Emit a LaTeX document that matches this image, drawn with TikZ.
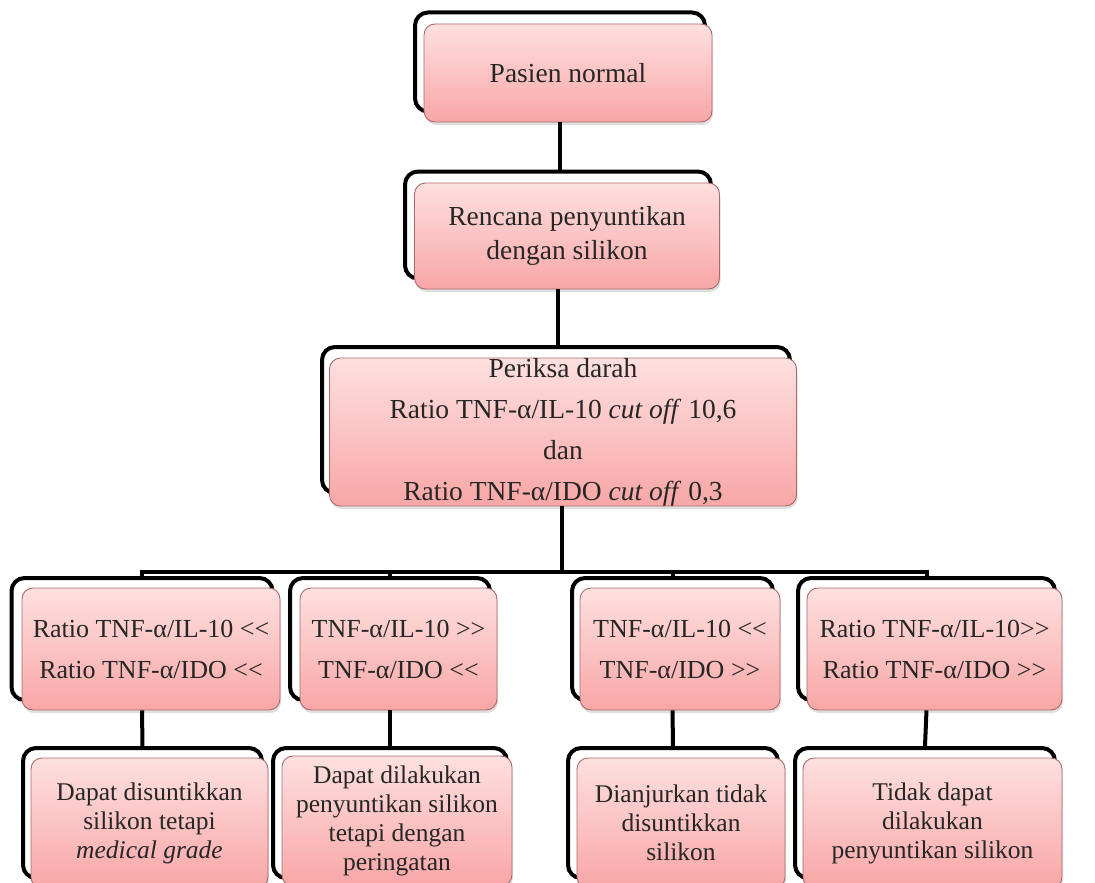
\documentclass[tikz,border=0pt]{standalone}
\usepackage{fontspec}
\setmainfont{Liberation Serif}
\usetikzlibrary{shadows}
\definecolor{pinktop}{RGB}{254,224,224}
\definecolor{pinkbot}{RGB}{249,166,166}
\definecolor{pinkedge}{RGB}{170,105,105}
\newcommand{\lessless}{<\kern0pt<}
\newcommand{\moremore}{>\kern0pt>}
\tikzset{
  pinkbox/.style={rounded corners=11pt, draw=pinkedge, line width=0.9pt,
    top color=pinktop, bottom color=pinkbot, inner sep=0pt, align=center,
    text=black!85,
    drop shadow={shadow xshift=1pt, shadow yshift=-3pt, opacity=0.25, fill=gray}},
  backbox/.style={rounded corners=13pt, draw=black, line width=4pt, fill=white, inner sep=0pt},
  link/.style={draw=black, line width=4pt},
  big/.style={font=\fontsize{27.5}{41}\selectfont},
  mid/.style={font=\fontsize{27.5}{34}\selectfont},
  row/.style={font=\fontsize{26}{41}\selectfont},
  small/.style={font=\fontsize{25.5}{29}\selectfont},
}
\begin{document}
\begin{tikzpicture}[x=1pt,y=-1pt]
\useasboundingbox (0,0) rectangle (1095,883);
% row 0
\node[backbox, minimum width=290pt, minimum height=99pt] (b1s) at (560,62) {};
\node[pinkbox, big, minimum width=288pt, minimum height=98pt] (b1) at (568,73) {Pasien normal};
% row 1
\node[backbox, minimum width=306pt, minimum height=107pt] (b2s) at (558,225) {};
\node[pinkbox, mid, minimum width=305pt, minimum height=106pt] (b2) at (567,236) {Rencana penyuntikan\\dengan silikon};
% row 2
\node[backbox, minimum width=468pt, minimum height=146pt] (b3s) at (556,420) {};
\node[pinkbox, big, minimum width=467pt, minimum height=146pt] (b3) at (563,432)
  {Periksa darah\\Ratio TNF-α/IL-10 \textit{cut off} 10,6\\dan\\Ratio TNF-α/IDO \textit{cut off} 0,3};
% row 3
\node[backbox, minimum width=261pt, minimum height=122pt] (a2s) at (142,639) {};
\node[pinkbox, row, minimum width=258pt, minimum height=122pt] (a2) at (151,649) {Ratio TNF-α/IL-10 \lessless\\Ratio TNF-α/IDO \lessless};
\node[backbox, minimum width=200pt, minimum height=122pt] (b2bs) at (390,639) {};
\node[pinkbox, row, minimum width=197pt, minimum height=122pt] (b2b) at (398.5,649) {TNF-α/IL-10 \moremore\\TNF-α/IDO \lessless};
\node[backbox, minimum width=201pt, minimum height=122pt] (c2s) at (672.5,639) {};
\node[pinkbox, row, minimum width=200pt, minimum height=122pt] (c2) at (680,649) {TNF-α/IL-10 \lessless\\TNF-α/IDO \moremore};
\node[backbox, minimum width=257pt, minimum height=122pt] (d2s) at (926.5,639) {};
\node[pinkbox, row, minimum width=255pt, minimum height=122pt] (d2) at (934.5,649) {Ratio TNF-α/IL-10\moremore\\Ratio TNF-α/IDO \moremore};
% row 4
\node[backbox, minimum width=239pt, minimum height=130pt] (a3s) at (142.5,813) {};
\node[pinkbox, small, minimum width=237pt, minimum height=130pt] (a3) at (149.5,823) {Dapat disuntikkan\\silikon tetapi\\\textit{medical grade}};
\node[backbox, minimum width=234pt, minimum height=130pt] (b3bs) at (390,813) {};
\node[pinkbox, small, minimum width=230pt, minimum height=130pt] (b3b) at (397,821) {Dapat dilakukan\\penyuntikan silikon\\tetapi dengan\\peringatan};
\node[backbox, minimum width=210pt, minimum height=130pt] (c3s) at (673,813) {};
\node[pinkbox, small, minimum width=208pt, minimum height=130pt] (c3) at (681,823) {Dianjurkan tidak\\disuntikkan\\silikon};
\node[backbox, minimum width=260pt, minimum height=130pt] (d3s) at (925,813) {};
\node[pinkbox, small, minimum width=259pt, minimum height=130pt] (d3) at (932.5,823) {Tidak dapat\\dilakukan\\penyuntikan silikon};
% connectors
\coordinate (bus) at (562,572);
\draw[link] (b1s.center |- b1.south) -- (b1s.center |- b2s.north);
\draw[link] (b2s.center |- b2.south) -- (b2s.center |- b3s.north);
\draw[link] (bus |- b3.south) -- (bus);
\draw[link] (a2s.north) -- (a2s.north |- bus) -- (d2s.north |- bus) -- (d2s.north);
\draw[link] (b2bs.north) -- (b2bs.north |- bus);
\draw[link] (c2s.north) -- (c2s.north |- bus);
\draw[link] (a2s.center |- a2.south) -- (a3s.north);
\draw[link] (b2bs.center |- b2b.south) -- (b3bs.north);
\draw[link] (c2s.center |- c2.south) -- (c3s.north);
\draw[link] (d2s.center |- d2.south) -- (d3s.north);
\end{tikzpicture}
\end{document}
